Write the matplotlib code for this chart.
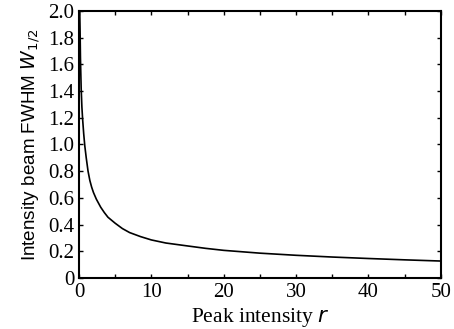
import matplotlib
matplotlib.use("Agg")
import matplotlib.pyplot as plt
from matplotlib.ticker import MultipleLocator, FuncFormatter

# values
peak_r = [0.1, 0.15, 0.2, 0.3, 0.4, 0.5, 0.65, 0.8, 1.0, 1.25, 1.5, 1.75,
          2.0, 2.4, 3.0, 3.5, 4.0, 5.0, 6.0, 7.0, 8.5, 10, 12, 15, 17.5,
          20, 25, 30, 35, 40, 45, 50]
fwhm = [2.0, 1.85, 1.65, 1.42, 1.28, 1.19, 1.08, 0.99, 0.90, 0.80, 0.73, 0.68,
        0.64, 0.59, 0.53, 0.49, 0.455, 0.41, 0.37, 0.34, 0.31, 0.285, 0.262,
        0.24, 0.222, 0.207, 0.186, 0.170, 0.157, 0.146, 0.136, 0.127]

plt.rcParams['font.family'] = ['Liberation Serif', 'DejaVu Serif']

fig = plt.figure(figsize=(4.54, 3.29), dpi=100)
ax = fig.add_axes([0.174, 0.155, 0.797, 0.812])

ax.plot(peak_r, fwhm, color='black', linewidth=1.2)

ax.set_xlim(0, 50)
ax.set_ylim(0, 2.0)
ax.xaxis.set_major_locator(MultipleLocator(10))
ax.xaxis.set_minor_locator(MultipleLocator(5))
ax.yaxis.set_major_locator(MultipleLocator(0.2))
ax.yaxis.set_major_formatter(FuncFormatter(lambda v, p: '0' if abs(v) < 1e-9 else '%.1f' % v))

ax.tick_params(which='both', direction='in', top=True, right=True,
               length=3, width=1, labelsize=15, pad=3.5)
ax.tick_params(which='minor', length=3)
for s in ax.spines.values():
    s.set_linewidth(1.5)

ax.set_xlabel('Peak intensity $r$', fontsize=15.5, labelpad=3)
ax.set_ylabel('Intensity beam FWHM $W_{1/2}$', fontsize=13.6, labelpad=4,
              family=['Liberation Sans', 'DejaVu Sans'])

fig.savefig('out.png', dpi=100)
